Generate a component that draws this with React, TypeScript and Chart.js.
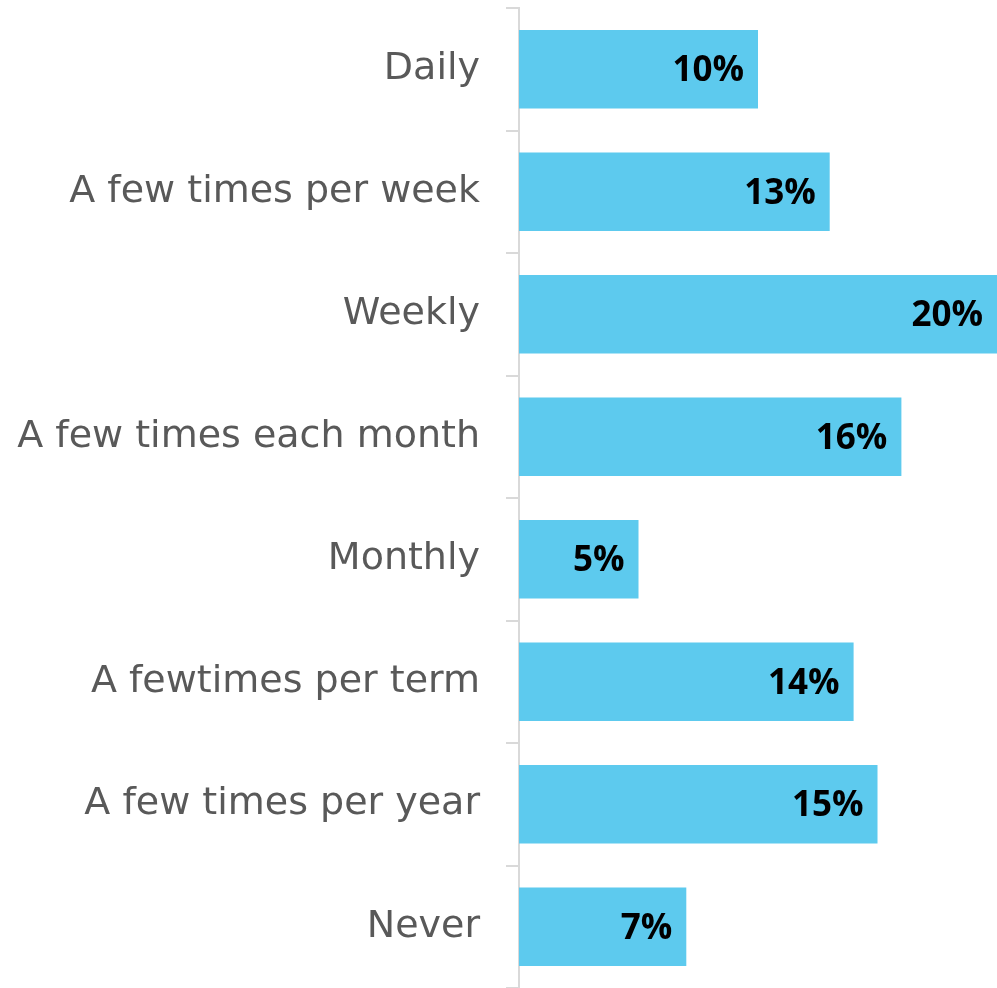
import React, { useEffect, useRef } from "react";
import { Chart, registerables } from "chart.js";

Chart.register(...registerables);

const categories = [
  "Daily",
  "A few times per week",
  "Weekly",
  "A few times each month",
  "Monthly",
  "A fewtimes per term",
  "A few times per year",
  "Never",
];
const values = [10, 13, 20, 16, 5, 14, 15, 7];
const valueLabels = ["10%", "13%", "20%", "16%", "5%", "14%", "15%", "7%"];

const barLabelPlugin = {
  id: "barLabels",
  afterDatasetsDraw(chart: any) {
    const ctx = chart.ctx;
    const meta = chart.getDatasetMeta(0);
    ctx.save();
    ctx.font = "bold 35px 'Open Sans', sans-serif";
    ctx.fillStyle = "#000000";
    ctx.textAlign = "right";
    ctx.textBaseline = "middle";
    meta.data.forEach((bar: any, i: number) => {
      ctx.fillText(valueLabels[i], bar.x - 14, bar.y + 2);
    });
    ctx.restore();
  },
};

export default function App() {
  const ref = useRef<HTMLCanvasElement | null>(null);
  useEffect(() => {
    if (!ref.current) return;
    const chart = new Chart(ref.current, {
      type: "bar",
      data: {
        labels: categories,
        datasets: [
          {
            data: values,
            backgroundColor: "#5DCAEE",
            borderWidth: 0,
            barPercentage: 0.64,
            categoryPercentage: 1,
          },
        ],
      },
      options: {
        indexAxis: "y",
        animation: false,
        responsive: false,
        maintainAspectRatio: false,
        layout: { padding: { top: 8, right: 0, bottom: 0, left: 0 } },
        plugins: { legend: { display: false }, tooltip: { enabled: false } },
        scales: {
          x: { display: false, min: 0, max: 20 },
          y: {
            type: "category",
            afterFit: (scale: any) => {
              scale.width = 519;
              scale.paddingTop = 0;
              scale.paddingBottom = 0;
            },
            grid: {
              offset: true,
              drawOnChartArea: false,
              tickLength: 13,
              color: "#d9d9d9",
              lineWidth: 2,
            },
            border: { color: "#d9d9d9", width: 2 },
            ticks: {
              color: "#595959",
              padding: 26,
              font: { family: "'DejaVu Sans', sans-serif", size: 38 },
            },
          },
        },
      },
      plugins: [barLabelPlugin],
    });
    return () => chart.destroy();
  }, []);
  return (
    <div style={{ position: "fixed", left: 0, top: 0, width: 997, height: 988, background: "#fff" }}>
      <canvas ref={ref} width={997} height={988} style={{ width: 997, height: 988 }} />
    </div>
  );
}
